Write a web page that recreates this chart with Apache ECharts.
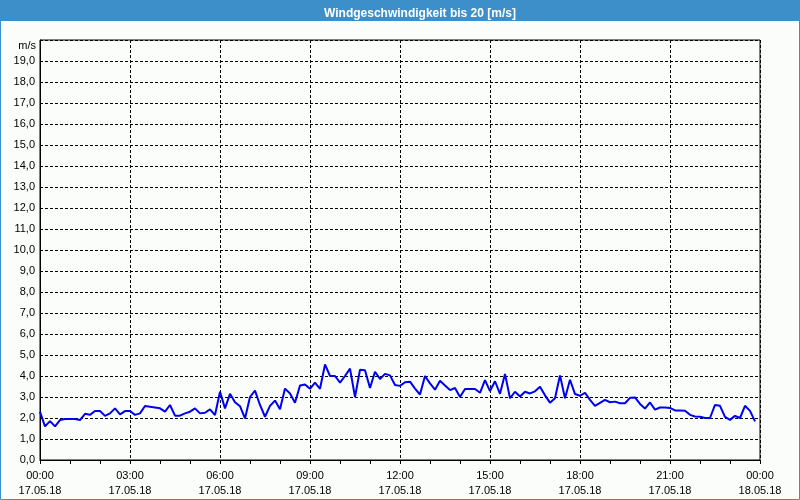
<!DOCTYPE html>
<html>
<head>
<meta charset="utf-8">
<script src="https://cdn.jsdelivr.net/npm/echarts@6/dist/echarts.min.js"></script>
<style>
html,body{margin:0;padding:0;background:#fbfdfb;}
#c{width:800px;height:500px;}
</style>
</head>
<body>
<div id="c"></div>
<script>
// Wind speed [m/s], one value every 10 minutes from 17.05.18 00:00
const stepMinutes = 10;
const windSpeed = [
  2.3, 1.6, 1.85, 1.6, 1.9, 1.95, 1.95, 1.95, 1.9, 2.2,
  2.15, 2.33, 2.33, 2.1, 2.22, 2.46, 2.17, 2.33, 2.33, 2.15,
  2.22, 2.57, 2.54, 2.5, 2.46, 2.3, 2.62, 2.11, 2.11, 2.22,
  2.3, 2.46, 2.22, 2.25, 2.41, 2.14, 3.25, 2.46, 3.15, 2.75,
  2.56, 1.98, 3.0, 3.3, 2.62, 2.06, 2.58, 2.83, 2.42, 3.4,
  3.17, 2.73, 3.55, 3.6, 3.39, 3.68, 3.39, 4.55, 4.0, 4.0,
  3.68, 4.0, 4.35, 3.0, 4.3, 4.27, 3.43, 4.2, 3.86, 4.1,
  4.03, 3.57, 3.53, 3.7, 3.73, 3.4, 3.12, 4.0, 3.65, 3.35,
  3.77, 3.55, 3.33, 3.43, 3.0, 3.38, 3.38, 3.38, 3.2, 3.8,
  3.28, 3.75, 3.15, 4.1, 2.94, 3.25, 3.02, 3.25, 3.17, 3.27,
  3.49, 3.08, 2.73, 2.94, 4.03, 2.94, 3.82, 3.14, 3.06, 3.2,
  2.86, 2.58, 2.72, 2.86, 2.75, 2.78, 2.7, 2.7, 2.96, 2.98,
  2.67, 2.45, 2.74, 2.4, 2.5, 2.5, 2.48, 2.36, 2.36, 2.35,
  2.15, 2.07, 2.06, 2.0, 2.0, 2.62, 2.58, 2.05, 1.91, 2.1,
  2.0, 2.58, 2.34, 1.84
];
const timeLabels = ['00:00','03:00','06:00','09:00','12:00','15:00','18:00','21:00','00:00'];
const dateLabels = ['17.05.18','17.05.18','17.05.18','17.05.18','17.05.18','17.05.18','17.05.18','17.05.18','18.05.18'];
const titleText = 'Windgeschwindigkeit bis 20 [m/s]';
const unitText = 'm/s';

const seriesData = windSpeed.map((v, i) => [i * stepMinutes, v]);
const FONT = '"Liberation Sans", Arial, sans-serif';

const chart = echarts.init(document.getElementById('c'), null, {renderer: 'canvas'});
chart.setOption({
  backgroundColor: '#fbfdfb',
  animation: false,
  graphic: [
    {type: 'rect', shape: {x: 0.5, y: 0.5, width: 799, height: 499},
     style: {fill: 'none', stroke: '#3c8fc8', lineWidth: 1}, z: 0},
    {type: 'rect', shape: {x: 0, y: 0, width: 800, height: 21},
     style: {fill: '#3c8fc8'}, z: 0}
  ],
  title: {
    text: titleText,
    left: 415, top: 3, textAlign: 'center',
    textStyle: {color: '#ffffff', fontFamily: FONT, fontSize: 12, fontWeight: 'bold'}
  },
  grid: {left: 40, top: 40, width: 720, height: 420, show: true,
         borderColor: '#000', borderWidth: 1, backgroundColor: 'transparent'},
  xAxis: {
    type: 'value', min: 0, max: 1440, interval: 180,
    axisLine: {lineStyle: {color: '#000', width: 1}},
    axisTick: {show: true, length: 4, lineStyle: {color: '#000'}},
    minorTick: {show: true, splitNumber: 3, length: 4, lineStyle: {color: '#000'}},
    splitLine: {show: true, lineStyle: {color: '#000', type: [3, 2], width: 1}},
    axisLabel: {
      margin: 8, color: '#000', fontFamily: FONT, fontSize: 11, lineHeight: 15,
      formatter: function (v) {
        const k = Math.round(v / 180);
        return timeLabels[k] + '\n' + dateLabels[k];
      }
    }
  },
  yAxis: {
    type: 'value', min: 0, max: 20, interval: 1,
    name: unitText, nameLocation: 'end', nameGap: -6,
    nameTextStyle: {color: '#000', fontFamily: FONT, fontSize: 11,
                    align: 'right', verticalAlign: 'middle', padding: [0, 4, 0, 0]},
    axisLine: {show: true, lineStyle: {color: '#000', width: 1}},
    axisTick: {show: false},
    splitLine: {show: true, lineStyle: {color: '#000', type: [3, 2], width: 1}},
    axisLabel: {
      margin: 5, color: '#000', fontFamily: FONT, fontSize: 11,
      formatter: function (v) { return v >= 20 ? '' : v.toFixed(1).replace('.', ','); }
    }
  },
  series: [{
    type: 'line', data: seriesData, showSymbol: false, symbol: 'none',
    lineStyle: {color: '#0000f0', width: 2}, z: 5
  }]
});
</script>
</body>
</html>
